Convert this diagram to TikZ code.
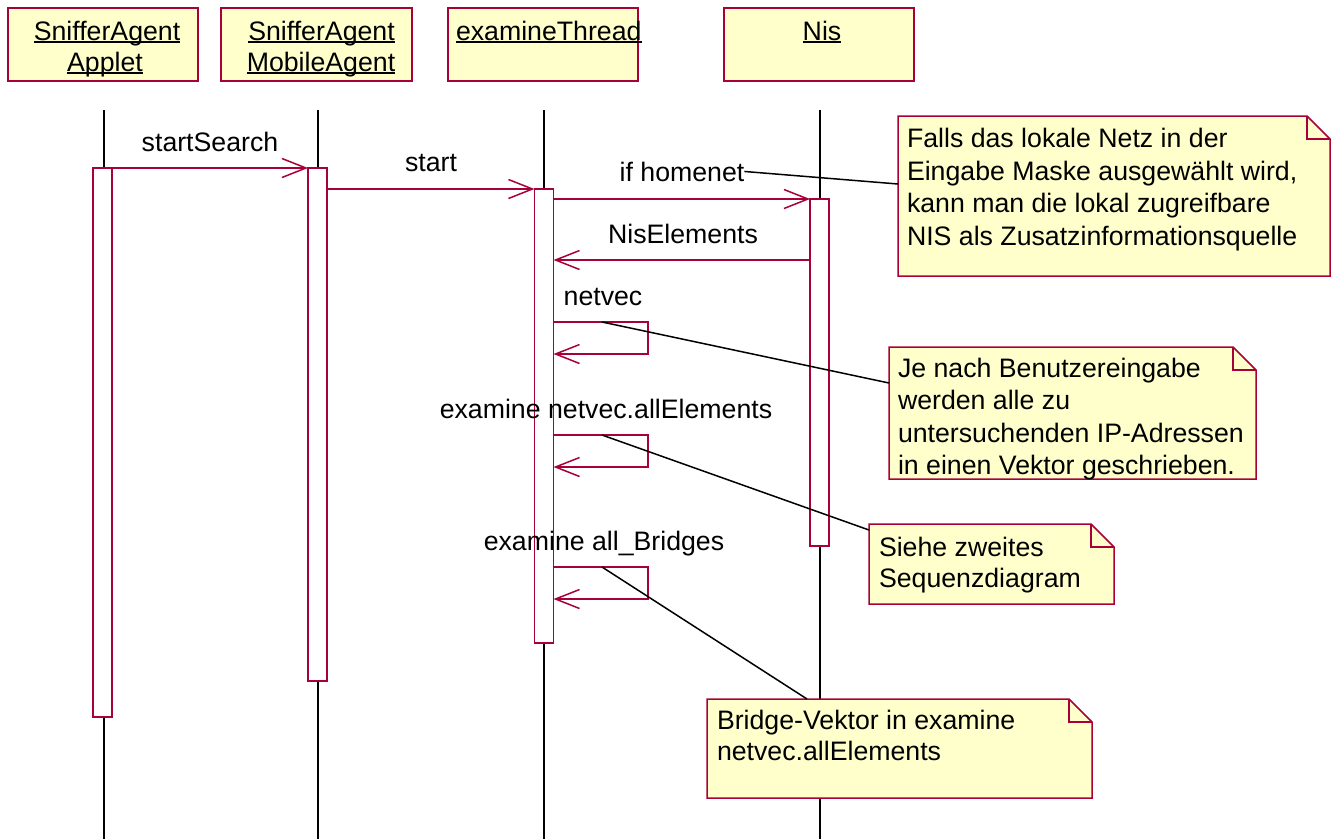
\documentclass[tikz,border=0pt]{standalone}
\usepackage{fontspec}
\setmainfont{Liberation Sans}
\usetikzlibrary{arrows.meta}
\definecolor{rose}{RGB}{168,0,56}
\definecolor{noteyellow}{RGB}{255,255,204}
\newcommand\umlnote[5]{%
  \node[notebase, minimum width=#4pt, minimum height=#5pt] (#1) at (#2,#3) {};
  \draw[noteline, fill=noteyellow] (#1.north west) -- ([xshift=-23pt]#1.north east) -- ([yshift=-23pt]#1.north east) -- (#1.south east) -- (#1.south west) -- cycle;
  \draw[noteline] ([xshift=-23pt]#1.north east) -- ([xshift=-23pt,yshift=-23pt]#1.north east) -- ([yshift=-23pt]#1.north east);
}
\begin{document}
\begin{tikzpicture}[x=1pt,y=-1pt,
  every node/.style={font=\fontsize{26.7}{31}\selectfont, inner sep=0pt, outer sep=0pt},
  hdr/.style={draw=rose, fill=noteyellow, line width=1.5pt, anchor=north west},
  life/.style={line width=1.5pt, black},
  act/.style={draw=rose, fill=white, line width=1.5pt, anchor=north west, minimum width=19pt},
  msg/.style={draw=rose, line width=1.5pt, line join=miter, -{Straight Barb[length=24pt,width=19pt]}},
  loopmsg/.style={draw=rose, line width=1.5pt, -{Straight Barb[length=24pt,width=19pt]}},
  lbl/.style={anchor=base},
  uline/.style={line width=1.5pt, black},
  link/.style={line width=1.5pt, black},
  notebase/.style={anchor=north west, draw=none},
  noteline/.style={draw=rose, line width=1.5pt, line join=miter},
  notetext/.style={anchor=north west, align=left},
  widetext/.style={notetext, font=\fontsize{26.7}{32.5}\selectfont}
]
\useasboundingbox (0,0) rectangle (1335,839);
\fill[white] (0,0) rectangle (1335,839);

% header boxes
\node[hdr, minimum width=190pt, minimum height=73pt] (h1) at (8,8) {};
\node[hdr, minimum width=191pt, minimum height=73pt] (h2) at (221,8) {};
\node[hdr, minimum width=190pt, minimum height=73pt] (h3) at (448,8) {};
\node[hdr, minimum width=190pt, minimum height=73pt] (h4) at (724,8) {};

\node[anchor=base] (t1a) at (107,40) {SnifferAgent};
\node[anchor=base] (t1b) at (105,71) {Applet};
\node[anchor=base] (t2a) at (321.5,40) {SnifferAgent};
\node[anchor=base] (t2b) at (321,71) {MobileAgent};
\node[anchor=base west] (t3a) at (456,40) {examineThread};
\node[anchor=base] (t4a) at (822,40) {Nis};
\foreach \t in {t1a,t1b,t2a,t2b,t3a,t4a}
  \draw[uline] ([yshift=-2pt]\t.base west) -- ([yshift=-2pt]\t.base east);

% lifelines
\coordinate (l1t) at (104,110); \coordinate (l1b) at (104,839);
\coordinate (l2t) at (318,110); \coordinate (l2b) at (318,839);
\coordinate (l3t) at (544,110); \coordinate (l3b) at (544,839);
\coordinate (l4t) at (820,110); \coordinate (l4b) at (820,839);
\draw[life] (l1t) -- (l1b);
\draw[life] (l2t) -- (l2b);
\draw[life] (l3t) -- (l3b);
\draw[life] (l4t) -- (l4b);

% activations
\node[act, minimum height=549pt] (A1) at (93,168) {};
\node[act, minimum height=513pt] (A2) at (308,168) {};
\node[act, minimum height=454pt] (A3) at (534.5,189) {};
\node[act, minimum height=347pt] (N) at (810,199) {};

% messages
\draw[msg] (A1.north east) -- (A2.north west);
\draw[msg] (A2.east |- A3.north) -- (A3.north west);
\draw[msg] (A3.east |- N.north) -- (N.north west);
\coordinate (r1) at (0,260);
\draw[msg] (N.west |- r1) -- (A3.east |- r1);
\draw[loopmsg] (A3.east |- 0,322) -- (648,322) -- (648,354) -- (A3.east |- 0,354);
\draw[loopmsg] (A3.east |- 0,435) -- (648,435) -- (648,467) -- (A3.east |- 0,467);
\draw[loopmsg] (A3.east |- 0,567) -- (648,567) -- (648,599) -- (A3.east |- 0,599);

% labels
\node[lbl] (m1) at (210,151) {startSearch};
\node[lbl] (m2) at (431,171) {start};
\node[lbl] (m3) at (682,181) {if homenet};
\node[lbl] (m4) at (683,243) {NisElements};
\node[lbl] (m5) at (603,305) {netvec};
\node[lbl] (m6) at (606,418) {examine netvec.allElements};
\node[lbl] (m7) at (604,550) {examine all\_Bridges};

% notes
\umlnote{n1}{898}{116}{432}{160}
\node[widetext] (n1t) at (907,128.5) {Falls das lokale Netz in der\\Eingabe Maske ausgewählt wird,\\kann man die lokal zugreifbare\\NIS als Zusatzinformationsquelle};
\umlnote{n2}{889}{347}{367}{132}
\node[widetext] (n2t) at (898,358) {Je nach Benutzereingabe\\werden alle zu\\untersuchenden IP-Adressen\\in einen Vektor geschrieben.};
\umlnote{n3}{869}{524}{245}{80}
\node[notetext] (n3t) at (879,537) {Siehe zweites\\Sequenzdiagram};
\umlnote{n4}{707}{699}{385}{99}
\node[notetext] (n4t) at (717,710.5) {Bridge-Vektor in examine\\netvec.allElements};

% note links
\coordinate (c5) at (602,322);
\coordinate (c6) at (602,435);
\coordinate (c7) at (602,567);
\draw[link] (m3.east) -- (n1.west |- 0,184);
\draw[link] (c5) -- (n2.west |- 0,383);
\draw[link] (c6) -- (n3.west |- 0,530);
\draw[link] (c7) -- (n4.north west -| 807,0);
\end{tikzpicture}
\end{document}
